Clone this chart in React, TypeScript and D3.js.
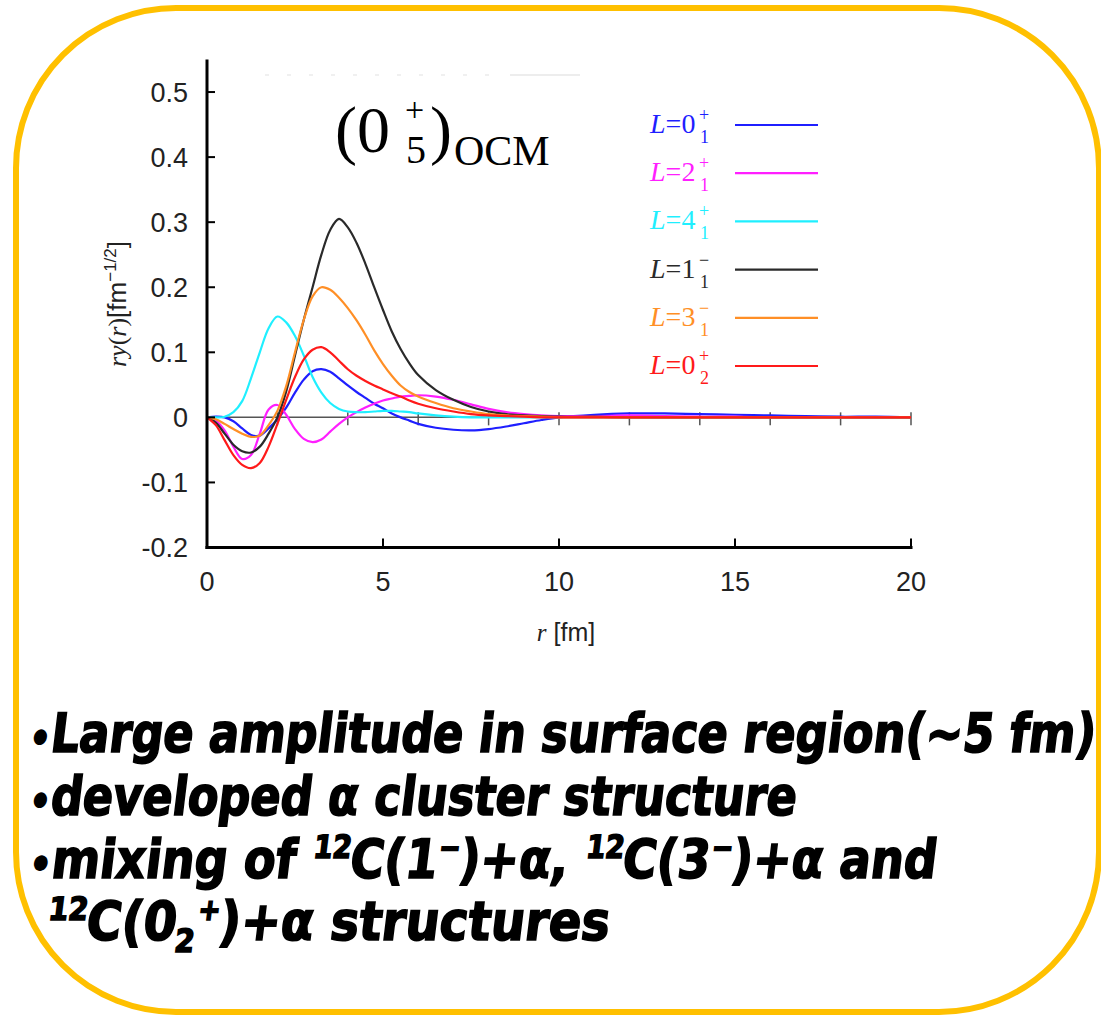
import React, { useLayoutEffect, useRef, useState } from 'react';
import * as d3 from 'd3';

// r grid (fm)
const rValues = [0, 0.25, 0.5, 0.75, 1, 1.25, 1.5, 1.75, 2, 2.25, 2.5, 2.75, 3, 3.25, 3.5, 3.75,
  4, 4.25, 4.5, 4.75, 5, 5.25, 5.5, 5.75, 6,
  6.5, 7, 7.5, 8, 8.5, 9, 9.5, 10,
  11, 12, 13, 14, 15, 16, 17, 18, 19, 20];

const seriesL = ['0', '2', '4', '1', '3', '0'];
const seriesSub = ['1', '1', '1', '1', '1', '2'];
const seriesSup = ['+', '+', '+', '\u2212', '\u2212', '+'];
const seriesColors = ['#1f1fff', '#ff1fff', '#1fefff', '#2a2a2a', '#ff8f26', '#ff1a1a'];

const L0p1 = [0, 0.001, 0.0, -0.006, -0.017, -0.027, -0.028, -0.017, -0.003, 0.015, 0.038, 0.058, 0.071, 0.074, 0.07, 0.06,
  0.049, 0.039, 0.03, 0.021, 0.014, 0.006, 0.0, -0.005, -0.01,
  -0.016, -0.019, -0.02, -0.018, -0.014, -0.009, -0.004, 0.0,
  0.004, 0.006, 0.006, 0.005, 0.004, 0.003, 0.002, 0.001, 0.001, 0];
const L2p1 = [0, -0.005, -0.02, -0.045, -0.064, -0.058, -0.025, 0.012, 0.019, 0.004, -0.018, -0.033, -0.038, -0.034, -0.022, -0.01,
  0.0, 0.008, 0.015, 0.021, 0.026, 0.029, 0.032, 0.033, 0.034,
  0.032, 0.027, 0.02, 0.013, 0.008, 0.005, 0.003, 0.002,
  0.002, 0.003, 0.002, 0.001, 0.001, 0, 0, 0, 0, 0];
const L4p1 = [0, 0, 0.001, 0.008, 0.025, 0.06, 0.1, 0.137, 0.155, 0.146, 0.125, 0.095, 0.062, 0.038, 0.022, 0.013,
  0.009, 0.008, 0.008, 0.009, 0.01, 0.01, 0.009, 0.008, 0.006,
  0.003, 0.001, 0, 0, 0, 0, 0, 0,
  0, 0, 0, 0, 0, 0, 0, 0, 0, 0];
const L1m1 = [0, -0.008, -0.025, -0.042, -0.052, -0.054, -0.045, -0.025, 0.0, 0.04, 0.095, 0.15, 0.2, 0.25, 0.288, 0.305,
  0.292, 0.268, 0.236, 0.2, 0.165, 0.132, 0.105, 0.083, 0.065,
  0.042, 0.027, 0.016, 0.009, 0.005, 0.003, 0.002, 0.001,
  0.001, 0, 0, 0, 0, 0, 0, 0, 0, 0];
const L3m1 = [0, -0.003, -0.01, -0.018, -0.025, -0.03, -0.028, -0.012, 0.01, 0.048, 0.1, 0.15, 0.186, 0.2, 0.196, 0.184,
  0.168, 0.149, 0.127, 0.103, 0.082, 0.064, 0.049, 0.039, 0.032,
  0.022, 0.014, 0.009, 0.005, 0.003, 0.002, 0.001, 0,
  0, 0, 0, 0, 0, 0, 0, 0, 0, 0];
const L0p2 = [0, -0.012, -0.035, -0.058, -0.073, -0.078, -0.07, -0.045, -0.01, 0.027, 0.062, 0.089, 0.104, 0.108, 0.1, 0.087,
  0.074, 0.064, 0.056, 0.049, 0.043, 0.037, 0.032, 0.026, 0.021,
  0.014, 0.009, 0.005, 0.003, 0.002, 0.001, 0, 0,
  0, 0, 0, 0, 0, 0, 0, 0, 0, 0];
const seriesValues = [L0p1, L2p1, L4p1, L1m1, L3m1, L0p2];

const yTicks = [-0.2, -0.1, 0, 0.1, 0.2, 0.3, 0.4, 0.5];
const yTickLabels = ['-0.2', '-0.1', '0', '0.1', '0.2', '0.3', '0.4', '0.5'];
const xTicks = [0, 5, 10, 15, 20];
const zeroLineTicks = [2, 4, 6, 8, 10, 12, 14, 16, 18, 20];

const W = 1101;
const H = 1016;

// bottom text layout: [left x, baseline y, target width]
const bottomLines: [number, number, number][] = [
  [28, 752, 1066],
  [28, 815, 767],
  [28, 878, 907],
  [45, 940, 563],
];

export default function App() {
  const x = d3.scaleLinear().domain([0, 20]).range([207, 911]);
  const y = d3.scaleLinear().domain([-0.2, 0.55]).range([547.5, 59.5]);
  const line = d3.line<number>()
    .x((_d, i) => x(rValues[i]))
    .y((d) => y(d))
    .curve(d3.curveCatmullRom.alpha(0.5));

  const sans = "'Liberation Sans', Arial, Helvetica, sans-serif";
  const serif = "'Liberation Serif', 'Times New Roman', serif";
  const pop = "'DejaVu Sans Condensed', 'Liberation Sans Narrow', 'DejaVu Sans', sans-serif";

  const legendX0 = 735;
  const legendX1 = 818;
  const legendTop = 125;
  const legendStep = 48.2;

  const textRefs = useRef<(SVGTextElement | null)[]>([]);
  const [scales, setScales] = useState<number[]>([1, 1, 1, 1]);
  useLayoutEffect(() => {
    const s = bottomLines.map((bl, i) => {
      const el = textRefs.current[i];
      if (!el) return 1;
      const w = el.getBBox().width;
      return w > 0 ? bl[2] / w : 1;
    });
    setScales(s);
  }, []);

  const lineContent = [
    <>
      <tspan fontSize={40}>{'\u2022'}</tspan>
      {'Large amplitude in surface region(\u223C5 fm)'}
    </>,
    <>
      <tspan fontSize={40}>{'\u2022'}</tspan>
      {'developed  \u03B1 cluster structure'}
    </>,
    <>
      <tspan fontSize={40}>{'\u2022'}</tspan>
      {'mixing of '}
      <tspan fontSize={32} dy={-20}>12</tspan>
      <tspan dy={20}>C(1</tspan>
      <tspan fontSize={30} dy={-20}>{'\u2212'}</tspan>
      <tspan dy={20}>{')+\u03B1, '}</tspan>
      <tspan fontSize={32} dy={-20}>12</tspan>
      <tspan dy={20}>C(3</tspan>
      <tspan fontSize={30} dy={-20}>{'\u2212'}</tspan>
      <tspan dy={20}>{')+\u03B1 and'}</tspan>
    </>,
    <>
      <tspan fontSize={32} dy={-20}>12</tspan>
      <tspan dy={20}>C(0</tspan>
      <tspan fontSize={32} dy={12}>2</tspan>
      <tspan fontSize={30} dy={-32}>+</tspan>
      <tspan dy={20}>{')+\u03B1  structures'}</tspan>
    </>,
  ];

  return (
    <svg width={W} height={H} viewBox={`0 0 ${W} ${H}`}
      style={{ position: 'absolute', left: 0, top: 0, background: '#fff' }}>
      <rect x={16} y={8} width={1083} height={1004} rx={160} ry={160}
        fill="#fff" stroke="#FFC000" strokeWidth={6} />

      {/* faint remnant at top of plot */}
      <line x1={265} x2={500} y1={75} y2={75} stroke="#e2e2e2" strokeWidth={1.2} strokeDasharray="4 18" />
      <line x1={510} x2={580} y1={75} y2={75} stroke="#dcdcdc" strokeWidth={1.2} />

      {/* zero line */}
      <line x1={x(0)} x2={x(20)} y1={y(0)} y2={y(0)} stroke="#555" strokeWidth={1.5} />
      {zeroLineTicks.map((t) => (
        <line key={'z' + t} x1={x(t)} x2={x(t)} y1={y(0) - 5} y2={y(0) + 8} stroke="#555" strokeWidth={1.5} />
      ))}

      {/* curves */}
      {seriesValues.map((vals, i) => (
        <path key={'s' + i} d={line(vals) || ''} fill="none" stroke={seriesColors[i]} strokeWidth={2.2}
          strokeLinejoin="round" />
      ))}

      {/* axes */}
      <line x1={x(0)} x2={x(0)} y1={y(0.55)} y2={y(-0.2) + 1.5} stroke="#000" strokeWidth={3} />
      <line x1={x(0) - 1.5} x2={x(20) + 1.5} y1={y(-0.2)} y2={y(-0.2)} stroke="#000" strokeWidth={3} />
      {yTicks.map((t, i) => (
        <g key={'yt' + i}>
          <line x1={x(0)} x2={x(0) + 8} y1={y(t)} y2={y(t)} stroke="#000" strokeWidth={2} />
          <text x={188} y={y(t) + 9.5} textAnchor="end" fontFamily={sans} fontSize={27} fill="#222">{yTickLabels[i]}</text>
        </g>
      ))}
      {xTicks.map((t) => (
        <g key={'xt' + t}>
          <line x1={x(t)} x2={x(t)} y1={y(-0.2)} y2={y(-0.2) - 9} stroke="#000" strokeWidth={2} />
          <text x={x(t)} y={591} textAnchor="middle" fontFamily={sans} fontSize={27} fill="#222">{String(t)}</text>
        </g>
      ))}

      {/* axis labels */}
      <text x={566} y={641} textAnchor="middle" fontSize={25} fill="#222">
        <tspan fontFamily={serif} fontStyle="italic">r</tspan>
        <tspan fontFamily={sans}> [fm]</tspan>
      </text>
      <text transform="translate(126,304) rotate(-90)" textAnchor="middle" fontSize={26} fill="#222">
        <tspan fontFamily={serif} fontStyle="italic">ry</tspan>
        <tspan fontFamily={serif}>(</tspan>
        <tspan fontFamily={serif} fontStyle="italic">r</tspan>
        <tspan fontFamily={serif}>)</tspan>
        <tspan fontFamily={sans}>[fm</tspan>
        <tspan fontFamily={sans} fontSize={17} dy={-10}>{'\u22121/2'}</tspan>
        <tspan fontFamily={sans} dy={10}>]</tspan>
      </text>

      {/* title */}
      <text fontFamily={serif} fill="#000">
        <tspan x={335} y={152} fontSize={66}>(0</tspan>
        <tspan x={405} y={121} fontSize={34}>+</tspan>
        <tspan x={406} y={163} fontSize={40}>5</tspan>
        <tspan x={430} y={152} fontSize={66}>)</tspan>
        <tspan x={454} y={165} fontSize={42}>OCM</tspan>
      </text>

      {/* legend */}
      {seriesL.map((l, i) => {
        const ly = legendTop + i * legendStep;
        const c = seriesColors[i];
        return (
          <g key={'lg' + i}>
            <text fontFamily={serif} fill={c}>
              <tspan x={650} y={ly + 8} fontSize={28} fontStyle="italic">L</tspan>
              <tspan fontSize={28}>={l}</tspan>
            </text>
            <text x={699} y={ly - 4} fontFamily={serif} fontSize={18} fill={c}>{seriesSup[i]}</text>
            <text x={700} y={ly + 18} fontFamily={serif} fontSize={18} fill={c}>{seriesSub[i]}</text>
            <line x1={legendX0} x2={legendX1} y1={ly} y2={ly} stroke={c} strokeWidth={2.2} />
          </g>
        );
      })}

      {/* bottom text */}
      <g fontFamily={pop} fontWeight={700} fill="#000" stroke="#000" strokeWidth={1.6}>
        {bottomLines.map((bl, i) => (
          <g key={'bl' + i} transform={`translate(${bl[0]},${bl[1]}) skewX(-7) scale(${scales[i]},1)`}>
            <text ref={(el) => { textRefs.current[i] = el; }} x={0} y={0} fontSize={54}>
              {lineContent[i]}
            </text>
          </g>
        ))}
      </g>
    </svg>
  );
}
